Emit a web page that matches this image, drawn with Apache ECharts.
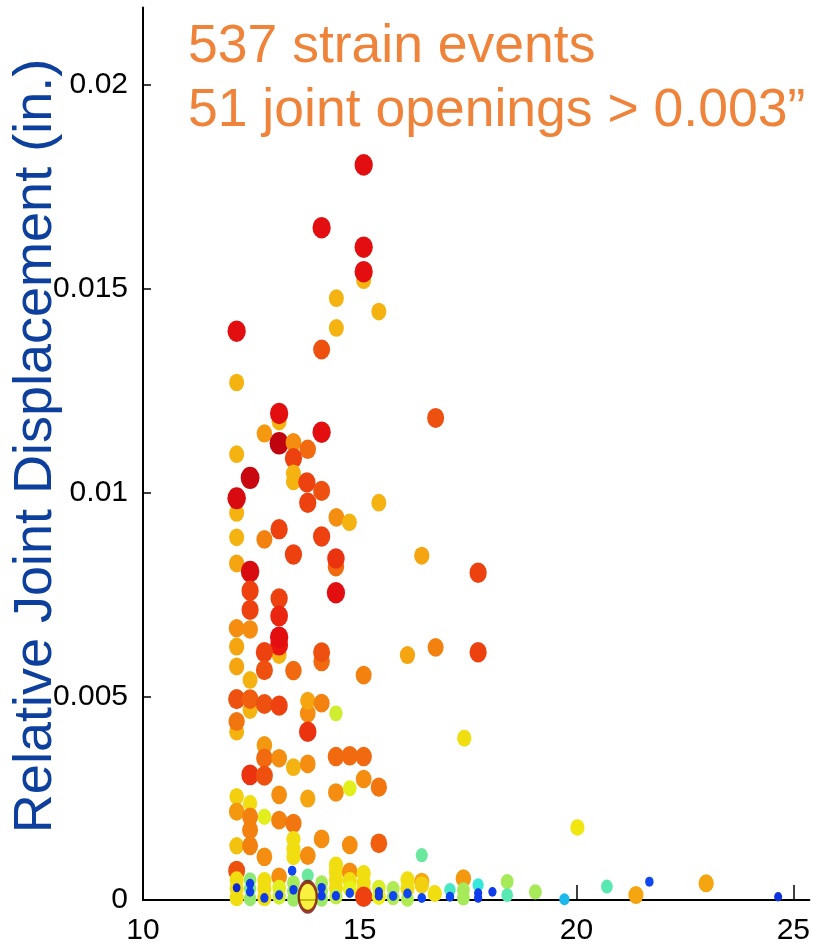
<!DOCTYPE html>
<html>
<head>
<meta charset="utf-8">
<script src="https://cdn.jsdelivr.net/npm/echarts@6/dist/echarts.min.js"></script>
<style>
  html, body { margin: 0; padding: 0; background: #ffffff; }
  #chart { width: 813px; height: 946px; }
</style>
</head>
<body>
<div id="chart"></div>
<script>
// Strain events: x position, relative joint displacement (in.), event level (0..1, drives colour and size)
const eventX = [
  15.09, 14.12, 15.09, 15.09, 15.09, 14.46, 15.44, 14.46, 12.16, 14.12,
  12.16, 13.14, 13.14, 16.75, 12.80, 14.12, 13.14, 13.47, 13.80, 12.16,
  13.47, 13.47, 13.47, 12.47, 13.78, 14.12, 12.16, 12.16, 13.80, 15.44,
  14.46, 14.76, 12.16, 12.80, 13.14, 14.12, 13.47, 16.43, 14.45, 14.45,
  12.16, 12.47, 17.73, 12.47, 14.45, 13.14, 12.47, 13.14, 12.16, 12.47,
  13.14, 13.14, 13.14, 12.16, 12.80, 14.12, 14.12, 16.10, 16.75, 17.73,
  12.16, 12.80, 13.47, 15.09, 12.47, 12.16, 12.47, 12.47, 12.80, 13.14,
  13.80, 13.80, 14.12, 14.45, 12.16, 12.16, 13.80, 17.41, 12.80, 12.80,
  13.14, 13.47, 13.80, 14.45, 14.77, 15.09, 12.47, 12.80, 15.09, 15.44,
  14.45, 14.77, 13.14, 13.80, 12.16, 12.47, 12.16, 12.80, 12.47, 12.47,
  13.14, 13.47, 13.47, 14.12, 14.77, 15.44, 12.16, 12.47, 16.43, 12.80,
  13.47, 13.47, 13.80, 12.16, 14.45, 14.45, 14.77, 15.09, 20.02,
  // near-zero band
  12.16, 12.16, 12.16, 12.47, 12.47, 12.47, 12.80, 12.80, 12.80, 13.14,
  13.14, 13.14, 13.47, 13.47, 13.47, 13.80, 14.12, 14.12, 14.12, 14.45,
  14.45, 14.45, 14.77, 14.77, 15.09, 15.09, 15.09, 15.44, 15.44, 15.77,
  15.77, 16.10, 16.10, 16.10, 16.43, 16.43, 16.73, 17.08, 17.39, 17.39,
  17.39, 17.73, 18.40, 18.40, 19.05, 20.70, 21.37, 22.99,
  // small low-level events drawn on top
  12.16, 12.47, 12.47, 12.80, 13.14, 13.44, 13.47, 14.12, 14.12, 14.45,
  14.77, 15.44, 15.44, 15.77, 16.10, 16.43, 17.08, 17.73, 17.73, 18.06,
  19.72, 21.68, 24.65
];
const displacement = [
  0.01804, 0.01650, 0.01521, 0.01602, 0.01542, 0.01477, 0.01444, 0.01404, 0.01396, 0.01351,
  0.01270, 0.01174, 0.01194, 0.01183, 0.01145, 0.01148, 0.01121, 0.01123, 0.01106, 0.01094,
  0.01084, 0.01047, 0.01027, 0.01036, 0.01025, 0.01004, 0.00950, 0.00986, 0.00975, 0.00975,
  0.00939, 0.00927, 0.00890, 0.00885, 0.00910, 0.00892, 0.00848, 0.00845, 0.00818, 0.00838,
  0.00826, 0.00806, 0.00803, 0.00759, 0.00754, 0.00740, 0.00712, 0.00697, 0.00667, 0.00664,
  0.00601, 0.00626, 0.00645, 0.00622, 0.00608, 0.00585, 0.00608, 0.00601, 0.00620, 0.00608,
  0.00573, 0.00564, 0.00563, 0.00552, 0.00540, 0.00493, 0.00466, 0.00493, 0.00481, 0.00477,
  0.00458, 0.00489, 0.00483, 0.00458, 0.00413, 0.00438, 0.00413, 0.00397, 0.00380, 0.00348,
  0.00348, 0.00326, 0.00334, 0.00352, 0.00354, 0.00352, 0.00307, 0.00305, 0.00297, 0.00277,
  0.00264, 0.00274, 0.00258, 0.00249, 0.00254, 0.00237, 0.00217, 0.00204, 0.00204, 0.00172,
  0.00196, 0.00188, 0.00149, 0.00150, 0.00135, 0.00139, 0.00133, 0.00133, 0.00110, 0.00106,
  0.00125, 0.00106, 0.00109, 0.00072, 0.00086, 0.00070, 0.00069, 0.00065, 0.00178,
  0.00050, 0.00028, 0.00005, 0.00050, 0.00028, 0.00003, 0.00048, 0.00028, 0.00005, 0.00057,
  0.00030, 0.00008, 0.00042, 0.00022, 0.00002, 0.00060, 0.00042, 0.00022, 0.00002, 0.00050,
  0.00030, 0.00008, 0.00048, 0.00028, 0.00042, 0.00025, 0.00008, 0.00030, 0.00008, 0.00028,
  0.00006, 0.00050, 0.00028, 0.00002, 0.00045, 0.00037, 0.00016, 0.00025, 0.00053, 0.00025,
  0.00005, 0.00037, 0.00045, 0.00012, 0.00020, 0.00033, 0.00012, 0.00041,
  0.00030, 0.00040, 0.00020, 0.00005, 0.00012, 0.00072, 0.00025, 0.00030, 0.00010, 0.00010,
  0.00017, 0.00020, 0.00010, 0.00010, 0.00016, 0.00005, 0.00008, 0.00017, 0.00005, 0.00020,
  0.00002, 0.00045, 0.00008
];
const eventLevel = [
  0.90, 0.90, 0.64, 0.90, 0.90, 0.64, 0.64, 0.64, 0.90, 0.80,
  0.64, 0.64, 0.90, 0.80, 0.68, 0.90, 0.97, 0.70, 0.76, 0.64,
  0.82, 0.64, 0.64, 0.95, 0.82, 0.80, 0.64, 0.92, 0.82, 0.64,
  0.70, 0.64, 0.64, 0.72, 0.82, 0.82, 0.82, 0.66, 0.76, 0.84,
  0.66, 0.92, 0.82, 0.82, 0.90, 0.82, 0.82, 0.86, 0.70, 0.70,
  0.64, 0.88, 0.90, 0.66, 0.82, 0.76, 0.80, 0.66, 0.72, 0.82,
  0.66, 0.80, 0.76, 0.72, 0.64, 0.80, 0.64, 0.78, 0.80, 0.82,
  0.70, 0.66, 0.72, 0.52, 0.64, 0.74, 0.84, 0.58, 0.68, 0.76,
  0.70, 0.64, 0.70, 0.76, 0.76, 0.76, 0.84, 0.80, 0.70, 0.74,
  0.70, 0.54, 0.70, 0.66, 0.60, 0.58, 0.68, 0.54, 0.72, 0.72,
  0.72, 0.74, 0.58, 0.70, 0.70, 0.78, 0.62, 0.72, 0.40, 0.70,
  0.58, 0.58, 0.70, 0.80, 0.58, 0.58, 0.70, 0.58, 0.57,
  0.58, 0.58, 0.58, 0.44, 0.42, 0.45, 0.58, 0.58, 0.58, 0.70,
  0.54, 0.52, 0.47, 0.47, 0.46, 0.40, 0.47, 0.47, 0.46, 0.58,
  0.58, 0.50, 0.58, 0.55, 0.58, 0.58, 0.82, 0.53, 0.56, 0.48,
  0.48, 0.58, 0.58, 0.48, 0.66, 0.60, 0.58, 0.36, 0.68, 0.47,
  0.47, 0.34, 0.47, 0.38, 0.47, 0.38, 0.66, 0.66,
  0.06, 0.10, 0.10, 0.10, 0.10, 0.12, 0.10, 0.10, 0.10, 0.10,
  0.12, 0.10, 0.10, 0.12, 0.12, 0.12, 0.12, 0.10, 0.10, 0.10,
  0.26, 0.12, 0.08
];

// Large stacked event cluster with a dark outline
const clusterX = [13.80];
const clusterY = [0.00008];

const xTicks = [10, 15, 20, 25];
const yTicks = [0, 0.005, 0.01, 0.015, 0.02];

const eventData = eventX.map((x, i) => [x, displacement[i], eventLevel[i]]);
const clusterData = clusterX.map((x, i) => [x, clusterY[i]]);

const chart = echarts.init(document.getElementById('chart'), null, { renderer: 'canvas' });

const tickFont = { fontFamily: '"Liberation Sans", Arial, sans-serif', fontSize: 30, color: '#000000' };

chart.setOption({
  animation: false,
  backgroundColor: '#ffffff',
  grid: { left: 143, right: 0, top: 7.6, bottom: 46, containLabel: false },
  xAxis: {
    type: 'value',
    min: 10,
    max: 25.37,
    interval: 5,
    splitLine: { show: false },
    axisLine: { lineStyle: { color: '#000000', width: 2 } },
    axisTick: { inside: true, length: 15, customValues: xTicks, lineStyle: { color: '#000000', width: 1.5 } },
    axisLabel: Object.assign({ margin: 16, customValues: xTicks }, tickFont)
  },
  yAxis: {
    type: 'value',
    min: 0,
    max: 0.0219,
    interval: 0.005,
    splitLine: { show: false },
    axisLine: { lineStyle: { color: '#000000', width: 2 } },
    axisTick: { inside: true, length: 8, customValues: yTicks, lineStyle: { color: '#000000', width: 1.5 } },
    axisLabel: Object.assign({
      margin: 15,
      customValues: yTicks,
      formatter: v => String(+v.toFixed(3))
    }, tickFont)
  },
  visualMap: {
    show: false,
    type: 'continuous',
    seriesIndex: 0,
    dimension: 2,
    min: 0,
    max: 1,
    inRange: {
      color: ['#0a0ab0', '#1040f0', '#10a0f0', '#30e8e0', '#90e870',
              '#f0f010', '#f5a010', '#f06010', '#e81010', '#b00010']
    }
  },
  series: [
    {
      type: 'scatter',
      data: eventData,
      silent: true,
      symbol: 'circle',
      symbolSize: v => { const s = 7 + 12.5 * v[2]; return [s, s * 1.18]; },
      itemStyle: { opacity: 1 },
      z: 2
    },
    {
      type: 'scatter',
      data: clusterData,
      silent: true,
      symbol: 'circle',
      symbolSize: [18, 30],
      itemStyle: { color: '#f8ee10', borderColor: '#7a0a0a', borderWidth: 3 },
      z: 3
    }
  ],
  graphic: [
    {
      type: 'text',
      left: 188,
      top: 20,
      style: {
        text: '537 strain events',
        fill: '#ef833a',
        font: '53.5px "Liberation Sans", Arial, sans-serif'
      }
    },
    {
      type: 'text',
      left: 188,
      top: 84,
      style: {
        text: '51 joint openings > 0.003\u201D',
        fill: '#ef833a',
        font: '53.5px "Liberation Sans", Arial, sans-serif'
      }
    },
    {
      type: 'text',
      x: 36,
      y: 446,
      rotation: Math.PI / 2,
      style: {
        text: 'Relative Joint Displacement (in.)',
        fill: '#0d3f9c',
        font: '54px "Liberation Sans", Arial, sans-serif',
        align: 'center',
        verticalAlign: 'middle'
      }
    }
  ]
});
</script>
</body>
</html>
